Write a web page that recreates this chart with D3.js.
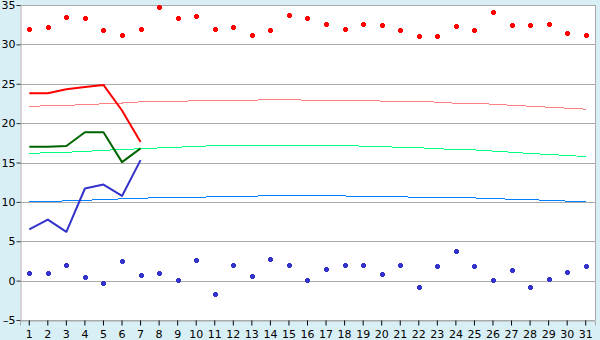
<!DOCTYPE html>
<html><head><meta charset="utf-8">
<script src="https://cdn.jsdelivr.net/npm/d3@7"></script>
<style>
html,body{margin:0;padding:0;background:#d9eff6;}
svg{display:block;font-family:"DejaVu Sans",Verdana,sans-serif;}
</style></head>
<body><svg id="c" width="600" height="340"></svg>
<script>
const days = d3.range(1, 32);
const yTicks = [-5, 0, 5, 10, 15, 20, 25, 30, 35];
// daily extremes (markers)
const maxTemps = [32.0,32.15,33.5,33.3,31.8,31.25,32.0,34.7,33.4,33.6,32.0,32.15,31.25,31.8,33.7,33.3,32.65,32.0,32.65,32.4,31.8,31.0,31.0,32.3,31.8,34.05,32.5,32.4,32.65,31.4,31.25];
const minTemps = [1.0,1.0,2.0,0.5,-0.25,2.55,0.75,1.0,0.13,2.65,-1.65,2.0,0.63,2.8,2.0,0.13,1.5,2.0,2.0,0.9,2.0,-0.75,1.8,3.8,1.9,0.13,1.4,-0.75,0.25,1.15,1.9];
// current observed (days 1-7)
const obsMax = [23.8,23.8,24.3,24.6,24.85,21.6,17.6];
const obsMean = [17.0,17.0,17.1,18.85,18.85,15.05,16.8];
const obsMin = [6.5,7.75,6.2,11.7,12.2,10.75,15.3];
// normals
const normMax = [22.1,22.23,22.25,22.36,22.45,22.55,22.7,22.74,22.76,22.85,22.9,22.9,22.9,23.0,23.0,22.9,22.9,22.9,22.9,22.8,22.8,22.78,22.66,22.53,22.53,22.4,22.27,22.15,22.02,21.9,21.77];
const normMean = [16.13,16.26,16.3,16.4,16.55,16.65,16.75,16.85,16.95,17.03,17.15,17.15,17.15,17.15,17.15,17.15,17.15,17.15,17.08,17.03,16.92,16.88,16.75,16.65,16.6,16.45,16.3,16.15,16.02,15.9,15.75];
const normMin = [10.0,10.05,10.13,10.2,10.3,10.38,10.45,10.55,10.55,10.58,10.65,10.68,10.72,10.8,10.8,10.8,10.8,10.75,10.68,10.67,10.65,10.57,10.55,10.53,10.5,10.42,10.33,10.27,10.2,10.1,10.03];

const L = 20, R = 595, T = 5, B = 320;
const svg = d3.select("#c");
const x = d3.scaleBand().domain(days).range([L, R]);
const cx = d => x(d) + x.bandwidth() / 2;
const y = d3.scaleLinear().domain([-5, 35]).range([B, T]);

svg.append("rect").attr("x", L).attr("y", T).attr("width", R - L).attr("height", B - T).attr("fill", "#fff");

// grid
svg.append("g").selectAll("line").data(yTicks).join("line")
  .attr("x1", L).attr("x2", R).attr("y1", d => Math.round(y(d)) + 0.5).attr("y2", d => Math.round(y(d)) + 0.5)
  .attr("stroke", "#aaaaaa").attr("stroke-width", 1);

// y axis
const ya = svg.append("g").attr("transform", `translate(${L + 0.5},0)`)
  .call(d3.axisLeft(y).tickValues(yTicks).tickSize(4).tickPadding(1)
    .tickFormat(d => d < 0 ? "\u2013" + (-d) : String(d)));
ya.select(".domain").attr("stroke", "#aaaaaa");
ya.selectAll(".tick line").attr("stroke", "#333");
ya.selectAll("text").attr("font-size", 11).attr("fill", "#000").attr("font-family", "DejaVu Sans, Verdana, sans-serif");

// x axis
const xa = svg.append("g").attr("transform", `translate(0,${B + 0.5})`)
  .call(d3.axisBottom(x).tickSize(5).tickPadding(5));
xa.select(".domain").attr("stroke", "#aaaaaa");
xa.selectAll(".tick line").attr("stroke", "#000");
xa.selectAll("text").attr("font-size", 11).attr("fill", "#000").attr("font-family", "DejaVu Sans, Verdana, sans-serif");

// right border
svg.append("line").attr("x1", R + 0.5).attr("x2", R + 0.5).attr("y1", T).attr("y2", B)
  .attr("stroke", "#aaaaaa");

const line = d3.line().x((v, i) => cx(days[i])).y(v => y(v));

const thin = [[normMax, "#ff8080"], [normMean, "#00ff80"], [normMin, "#0080ff"]];
thin.forEach(([arr, col]) => {
  svg.append("path").attr("d", line(arr)).attr("fill", "none").attr("stroke", col)
    .attr("stroke-width", 1).attr("shape-rendering", "crispEdges");
});
const thick = [[obsMax, "#ff0000"], [obsMean, "#006400"], [obsMin, "#3333cc"]];
thick.forEach(([arr, col]) => {
  svg.append("path").attr("d", line(arr)).attr("fill", "none").attr("stroke", col)
    .attr("stroke-width", 2).attr("stroke-linejoin", "round");
});

const marker = "M-1.5,-2.5h3v1h1v3h-1v1h-3v-1h-1v-3h1z";
svg.append("g").attr("shape-rendering", "crispEdges").selectAll("path").data(maxTemps).join("path")
  .attr("d", marker).attr("transform", (v, i) => `translate(${Math.round(cx(days[i])) + 0.5},${Math.round(y(v)) + 0.5})`)
  .attr("fill", "#ff0000");
svg.append("g").attr("shape-rendering", "crispEdges").selectAll("path").data(minTemps).join("path")
  .attr("d", marker).attr("transform", (v, i) => `translate(${Math.round(cx(days[i])) + 0.5},${Math.round(y(v)) + 0.5})`)
  .attr("fill", "#3333cc");
</script></body></html>
